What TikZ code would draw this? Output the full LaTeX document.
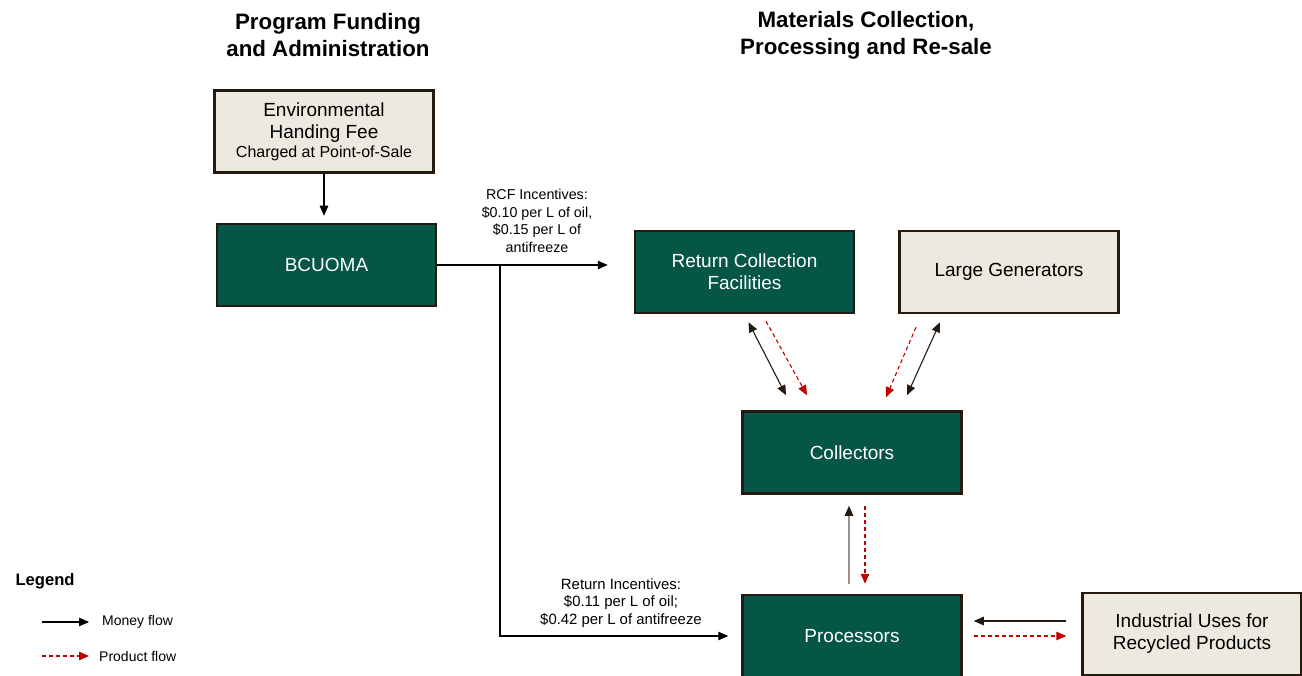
\documentclass[tikz,border=0pt]{standalone}
\usepackage{fontspec}
\setmainfont{Liberation Sans}
\usetikzlibrary{arrows.meta,positioning}
\definecolor{boxgreen}{RGB}{5,86,70}
\definecolor{boxbeige}{RGB}{236,233,222}
\definecolor{boxline}{RGB}{38,26,16}
\definecolor{flowred}{RGB}{192,0,0}
\definecolor{flowgrey}{RGB}{156,145,137}

\begin{document}
\begin{tikzpicture}[x=1pt,y=-1pt,
    greenbox/.style={draw=boxline,line width=2.5pt,fill=boxgreen,text=white,
      minimum width=219pt,minimum height=82pt,align=center,
      font=\fontsize{19}{22}\selectfont},
    beigebox/.style={greenbox,fill=boxbeige,text=black},
    heading/.style={align=center,font=\bfseries\fontsize{22.3}{27}\selectfont},
    flowlabel/.style={align=center,font=\fontsize{14.3}{17.5}\selectfont},
    legendtext/.style={anchor=west,inner sep=0pt,font=\fontsize{14}{17}\selectfont},
    money/.style={line width=1.1pt,-{Triangle[length=10pt,width=8.5pt]}},
    twoway/.style={{Triangle[length=10pt,width=8.5pt]}-{Triangle[length=10pt,width=8.5pt]}},
    product/.style={money,flowred,dash pattern=on 4pt off 3pt}]

    \useasboundingbox (0,0) rectangle (1302,676);
    \clip (0,0) rectangle (1302,676);

    \node [heading] (fundhead) at (328,35) {Program Funding\\and Administration};
    \node [heading] (mathead) at (866,35) {Materials Collection,\\Processing and Re-sale};

    \node [beigebox] (fee) at (324,131.5)
      {Environmental\\Handing Fee\\[-3pt]{\fontsize{16}{19}\selectfont Charged at Point-of-Sale}};
    \node [greenbox] (bcuoma) at (326.5,265) {BCUOMA};
    \node [greenbox] (rcf) at (744.5,272) {Return Collection\\Facilities};
    \node [beigebox] (largegen) at (1009,272) {Large Generators};
    \node [greenbox] (collectors) at (852,452.5) {Collectors};
    \node [greenbox] (processors) at (852,636) {Processors};
    \node [beigebox] (industrial) at (1192,634) {Industrial Uses for\\Recycled Products};

    \node [flowlabel] (rcfinc) at (537,221)
      {RCF Incentives:\\\$0.10 per L of oil,\\\$0.15 per L of\\antifreeze};
    \node [flowlabel,font=\fontsize{14.9}{17.5}\selectfont] (retinc) at (621,603)
      {Return Incentives:\\\$0.11 per L of oil;\\\$0.42 per L of antifreeze};

    \coordinate (split) at (500,265);
    \draw [money,shorten >=7pt] (fee.south) -- (fee.south |- bcuoma.north);
    \draw [money,shorten >=26pt] (bcuoma.east) -- (bcuoma.east -| rcf.west);
    \draw [money,shorten >=13pt] (split) |- (processors.west);

    \draw [money,twoway,boxline] ([shift={(4,8)}]rcf.south) -- ([shift={(-66,-15)}]collectors.north);
    \draw [product] ([shift={(21.5,7)}]rcf.south) -- ([shift={(-45,-15)}]collectors.north);
    \draw [product] ([shift={(-93,13)}]largegen.south) -- ([shift={(34,-13)}]collectors.north);
    \draw [money,twoway,boxline] ([shift={(-69,8)}]largegen.south) -- ([shift={(55,-15)}]collectors.north);

    \draw [money,flowgrey,-{Triangle[length=10pt,width=8.5pt,color=boxline]}]
      ([shift={(-3,-10)}]processors.north) -- ([shift={(-3,11)}]collectors.south);
    \draw [product] ([shift={(13,11)}]collectors.south) -- ([shift={(13,-10)}]processors.north);

    \draw [money,boxline] ([shift={(-15,-13)}]industrial.west) -- ([shift={(11,-15)}]processors.east);
    \draw [product] ([xshift=11]processors.east) -- ([shift={(-15,2)}]industrial.west);

    \node [anchor=west,font=\bfseries\fontsize{16.6}{20}\selectfont] (legend) at (12,581) {Legend};
    \coordinate (moneyfrom) at (42,622);
    \coordinate (moneyto) at (89,622);
    \coordinate (productfrom) at (42,656);
    \coordinate (productto) at (89,656);
    \node [legendtext] (moneytxt) at (102,622) {Money flow};
    \node [legendtext] (producttxt) at (99,656) {Product flow};
    \draw [money] (moneyfrom) -- (moneyto);
    \draw [product] (productfrom) -- (productto);
\end{tikzpicture}
\end{document}
